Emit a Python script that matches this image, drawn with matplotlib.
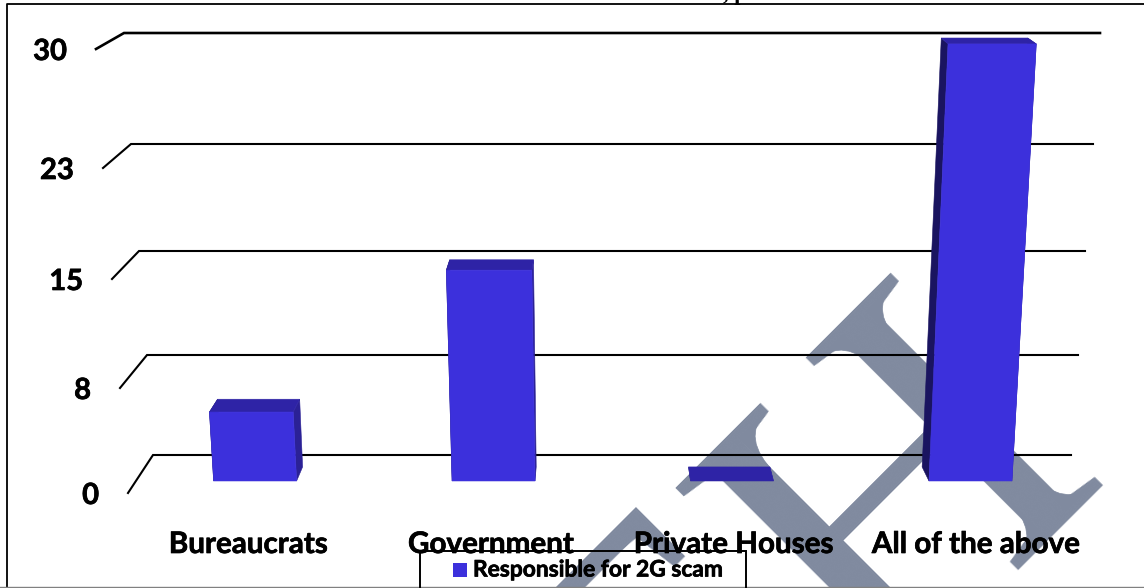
import numpy as np
import matplotlib.pyplot as plt
import matplotlib.patheffects as pe
from matplotlib.patches import Polygon, Rectangle, PathPatch
from matplotlib.path import Path

categories = ['Bureaucrats', 'Government', 'Private Houses', 'All of the above']
responsible = [5, 15, 0, 30]
series_name = 'Responsible for 2G scam'
grid_values = [0, 7.5, 15, 22.5, 30]
tick_labels = ['0', '8', '15', '23', '30']

# where the box floor and walls sit on the page, one entry per gridline
front_y = [493, 388, 279, 168, 49]
back_y = [455, 355, 251, 144, 33]
front_left = [128, 120, 112, 103, 96]
back_left = [153, 147, 139, 131, 124]
back_right = [1071, 1078, 1085, 1093, 1100]
front_zoom = 1.057

bar_front, bar_back = 0.316, 0.686
bar_half = 0.0435

FRONT = '#3c30dc'
TOP = '#2e23a6'
RIGHT = '#2b2196'
LEFT = '#1a1460'
GREY = '#808a9f'

heavy = [pe.withStroke(linewidth=0.5, foreground='black')]


def project(u, v, d):
    # u across the floor, v the value, d depth from front (0) to back wall (1)
    left = np.interp(v, grid_values, front_left)
    left += d * (np.interp(v, grid_values, back_left) - left)
    w_back = np.interp(v, grid_values, back_right) - np.interp(v, grid_values, back_left)
    w = w_back * front_zoom + d * (w_back - w_back * front_zoom)
    y = np.interp(v, grid_values, front_y)
    y += d * (np.interp(v, grid_values, back_y) - y)
    return left + u * w, y


def face(ax, points, color, z):
    ax.add_patch(Polygon(points, closed=True, facecolor=color, edgecolor=color,
                         linewidth=0.4, zorder=z))


def letter_point(a, b):
    # a along the reading direction of the tilted letter, b up the letter
    r = np.sqrt(0.5)
    return 891 + a * r - b * r, 486 - a * r - b * r


fig = plt.figure(figsize=(11.44, 5.88), dpi=100)
ax = fig.add_axes([0, 0, 1, 1])
ax.set_xlim(0, 1144)
ax.set_ylim(588, 0)
ax.axis('off')

# watermark letters
ax.text(991, 583, 'H', family='Liberation Serif', fontsize=330, color=GREY, rotation=45,
        ha='center', va='baseline', rotation_mode='anchor', zorder=1)
ax.text(751, 803, 'T', family='Liberation Serif', fontsize=325, color=GREY, rotation=45,
        ha='center', va='baseline', rotation_mode='anchor', zorder=1)

# rounded brackets where the stems meet the serifs
for stem in (-90, 90):
    for side in (-1, 1):
        for end in (-1, 1):
            corner = letter_point(stem + side * 17, end * 141)
            p0 = letter_point(stem + side * 55, end * 141)
            p1 = letter_point(stem + side * 17, end * 90)
            bracket = Path([corner, p0, corner, p1, corner],
                           [Path.MOVETO, Path.LINETO, Path.CURVE3, Path.CURVE3, Path.CLOSEPOLY])
            ax.add_patch(PathPatch(bracket, facecolor=GREY, edgecolor=GREY, linewidth=0.5, zorder=1))

# page frame and the bit of the line above it
ax.plot([7, 7, 1144], [588, 3.5, 3.5], color='black', lw=1.3, zorder=2)
ax.plot([0, 1144], [587, 587], color='#808080', lw=1.0, zorder=2)
ax.text(735, 0, ', p', family='Liberation Serif', fontsize=16, fontweight='bold',
        ha='center', va='baseline', zorder=2)

# gridlines with their stubs on the left wall
for i, val in enumerate(grid_values):
    lw = 1.9 if i == len(grid_values) - 1 else 1.5
    ax.plot([front_left[i], back_left[i], back_right[i]],
            [front_y[i], back_y[i], back_y[i]], color='black', lw=lw,
            solid_joinstyle='miter', zorder=3)
    ax.text(front_left[i] - 29, front_y[i] + 3, tick_labels[i], family='Lato',
            fontweight='bold', fontsize=21, ha='right', va='center', zorder=6,
            path_effects=heavy)

# bars, hidden faces first
for i, val in enumerate(responsible):
    u0 = (i + 0.5) / len(categories) - bar_half
    u1 = (i + 0.5) / len(categories) + bar_half
    face(ax, [project(u0, 0, bar_front), project(u0, val, bar_front),
              project(u0, val, bar_back), project(u0, 0, bar_back)], LEFT, 4)
    face(ax, [project(u1, 0, bar_front), project(u1, val, bar_front),
              project(u1, val, bar_back), project(u1, 0, bar_back)], RIGHT, 4)
    face(ax, [project(u0, val, bar_front), project(u1, val, bar_front),
              project(u1, val, bar_back), project(u0, val, bar_back)], TOP, 5)
    if val > 0:
        face(ax, [project(u0, 0, bar_front), project(u1, 0, bar_front),
                  project(u1, val, bar_front), project(u0, val, bar_front)], FRONT, 5)
    x, _ = project((i + 0.5) / len(categories), 0, 0)
    ax.text(x - 1, 544, categories[i], family='Lato', fontweight='bold', fontsize=21.3,
            ha='center', va='center', zorder=6, path_effects=heavy)

# legend box runs off the bottom of the page
ax.add_patch(Rectangle((419.5, 551), 326, 40, facecolor='none', edgecolor='black',
                       linewidth=1.4, zorder=7))
ax.add_patch(Rectangle((453, 563), 14, 14, facecolor=FRONT, edgecolor='none', zorder=7))
ax.text(473, 570, series_name, family='Lato', fontweight='bold', fontsize=16.4,
        ha='left', va='center', zorder=7, path_effects=heavy)

fig.savefig('out.png', dpi=100)
